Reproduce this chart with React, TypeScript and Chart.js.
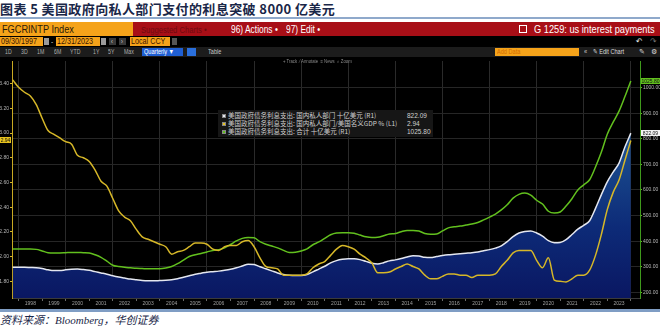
import React, { useEffect, useRef } from "react";
import { Chart, registerables } from "chart.js";
Chart.register(...registerables);

// Quarterly periods (quarter-end dates plotted)
const periods = [
  "1997Q3", "1997Q4",
  "1998Q1", "1998Q2", "1998Q3", "1998Q4",
  "1999Q1", "1999Q2", "1999Q3", "1999Q4",
  "2000Q1", "2000Q2", "2000Q3", "2000Q4",
  "2001Q1", "2001Q2", "2001Q3", "2001Q4",
  "2002Q1", "2002Q2", "2002Q3", "2002Q4",
  "2003Q1", "2003Q2", "2003Q3", "2003Q4",
  "2004Q1", "2004Q2", "2004Q3", "2004Q4",
  "2005Q1", "2005Q2", "2005Q3", "2005Q4",
  "2006Q1", "2006Q2", "2006Q3", "2006Q4",
  "2007Q1", "2007Q2", "2007Q3", "2007Q4",
  "2008Q1", "2008Q2", "2008Q3", "2008Q4",
  "2009Q1", "2009Q2", "2009Q3", "2009Q4",
  "2010Q1", "2010Q2", "2010Q3", "2010Q4",
  "2011Q1", "2011Q2", "2011Q3", "2011Q4",
  "2012Q1", "2012Q2", "2012Q3", "2012Q4",
  "2013Q1", "2013Q2", "2013Q3", "2013Q4",
  "2014Q1", "2014Q2", "2014Q3", "2014Q4",
  "2015Q1", "2015Q2", "2015Q3", "2015Q4",
  "2016Q1", "2016Q2", "2016Q3", "2016Q4",
  "2017Q1", "2017Q2", "2017Q3", "2017Q4",
  "2018Q1", "2018Q2", "2018Q3", "2018Q4",
  "2019Q1", "2019Q2", "2019Q3", "2019Q4",
  "2020Q1", "2020Q2", "2020Q3", "2020Q4",
  "2021Q1", "2021Q2", "2021Q3", "2021Q4",
  "2022Q1", "2022Q2", "2022Q3", "2022Q4",
  "2023Q1", "2023Q2", "2023Q3", "2023Q4",
];

// 国内私人部门 十亿美元 (R1)
const domesticBn = [
  298,
  298, 298, 297, 296,
  293, 288, 285, 285,
  288, 290, 291, 289,
  286, 281, 276, 271,
  265, 260, 256, 252,
  249, 246, 245, 245,
  246, 247, 249, 253,
  259, 265, 271, 275,
  279, 281, 283, 286,
  290, 296, 303, 310,
  309, 300, 292, 284,
  276, 270, 267, 266,
  266, 270, 280, 291,
  302, 315, 324, 329,
  331, 331, 328, 321,
  314, 311, 316, 323,
  327, 332, 338, 343,
  342, 337, 336, 340,
  344, 347, 349, 351,
  353, 355, 358, 363,
  367, 373, 382, 398,
  418, 432, 438, 440,
  432, 420, 402, 394,
  395, 406, 426, 447,
  462, 480, 528, 582,
  632, 670, 705, 768,
  822.09,
];

// 国内私人部门/美国名义GDP % (L1)
const domesticPctGdp = [
  3.43,
  3.37, 3.33, 3.30, 3.23,
  3.12, 3.02, 2.99, 2.96,
  2.93, 2.91, 2.82, 2.80,
  2.77, 2.70, 2.61, 2.57,
  2.47, 2.37, 2.32, 2.29,
  2.22, 2.16, 2.14, 2.12,
  2.10, 2.08, 2.02, 2.04,
  2.05, 2.08, 2.11, 2.11,
  2.10, 2.06, 2.05, 2.08,
  2.09, 2.09, 2.12, 2.13,
  2.08, 1.99, 1.92, 1.91,
  1.90, 1.85, 1.85, 1.85,
  1.85, 1.86, 1.91, 1.94,
  1.96, 2.01, 2.06, 2.09,
  2.08, 2.06, 2.02, 1.99,
  1.95, 1.87, 1.87, 1.875,
  1.90, 1.92, 1.94, 1.92,
  1.90, 1.85, 1.82, 1.82,
  1.84, 1.86, 1.86, 1.85,
  1.85, 1.83, 1.85, 1.85,
  1.85, 1.86, 1.92, 1.97,
  2.03, 2.05, 2.05, 2.05,
  1.97, 1.91, 1.99, 1.81,
  1.80, 1.795, 1.82, 1.85,
  1.85, 1.89, 2.01, 2.18,
  2.38, 2.52, 2.62, 2.78,
  2.94,
];

// 合计 十亿美元 (R1)
const totalBn = [
  369,
  369, 369, 369, 368,
  362, 355, 354, 354,
  355, 356, 356, 355,
  354, 347, 337, 322,
  306, 301, 298, 296,
  294, 293, 292, 292,
  292, 295, 301, 312,
  326, 340, 347, 352,
  358, 364, 367, 374,
  387, 401, 411, 414,
  413, 398, 388, 381,
  374, 364, 356, 357,
  362, 370, 386, 397,
  411, 425, 432, 433,
  433, 431, 424, 417,
  414, 415, 421, 428,
  430, 437, 442, 442,
  440, 430, 427, 428,
  440, 452, 456, 459,
  463, 467, 473, 483,
  494, 506, 522, 542,
  568, 583, 588, 580,
  560, 545, 517, 510,
  514, 537, 566, 600,
  620, 640, 690, 748,
  818, 865, 908, 965,
  1025.8,
];

const yearLabels = [
  "1998", "1999", "2000", "2001", "2002", "2003", "2004", "2005", "2006",
  "2007", "2008", "2009", "2010", "2011", "2012", "2013", "2014", "2015",
  "2016", "2017", "2018", "2019", "2020", "2021", "2022", "2023",
];
const leftTicks = [1.8, 2.0, 2.2, 2.4, 2.6, 2.8, 3.0, 3.2, 3.4];
const rightTicks = [200, 300, 400, 500, 600, 700, 800, 900, 1000];

const legendNames = [
  "美国政府债务利息支出: 国内私人部门 十亿美元 (R1)",
  "美国政府债务利息支出: 国内私人部门/美国名义GDP % (L1)",
  "美国政府债务利息支出: 合计 十亿美元 (R1)",
];

const WHITE = "#e4e7f0";
const YELLOW = "#d6b728";
const GREEN = "#62c01e";

const toX = (p: string) => Number(p.slice(0, 4)) + Number(p[5]) / 4;
const pts = (vals: number[]) => periods.map((p, i) => ({ x: toX(p), y: vals[i] }));

const UI = "'Liberation Sans', 'DejaVu Sans', sans-serif";

const badgePlugin = {
  id: "badges",
  afterDraw(chart: any) {
    const c = chart.ctx;
    const yL = chart.scales.yL;
    const yR = chart.scales.yR;
    const draw = (x: number, w: number, y: number, bg: string, txt: string) => {
      c.save();
      c.fillStyle = bg;
      c.fillRect(x, Math.round(y) - 3, w, 6);
      c.fillStyle = "#111";
      c.font = "5px 'Liberation Sans', sans-serif";
      c.textAlign = "center";
      c.textBaseline = "middle";
      c.fillText(txt, x + w / 2, Math.round(y) + 0.5);
      c.restore();
    };
    const lastY = domesticPctGdp[domesticPctGdp.length - 1];
    const lastT = totalBn[totalBn.length - 1];
    const lastD = domesticBn[domesticBn.length - 1];
    draw(0, 11, yL.getPixelForValue(lastY), "#e6c21e", lastY.toFixed(2));
    draw(641, 19, yR.getPixelForValue(lastT), GREEN, lastT.toFixed(2));
    draw(641, 19, yR.getPixelForValue(lastD), "#f2f2f2", lastD.toFixed(2));
  },
};

function ChartCanvas() {
  const ref = useRef<HTMLCanvasElement | null>(null);
  useEffect(() => {
    if (!ref.current) return;
    const xTicks: number[] = [];
    yearLabels.forEach((y) => {
      xTicks.push(Number(y));
      xTicks.push(Number(y) + 0.5);
    });
    xTicks.push(Number(yearLabels[yearLabels.length - 1]) + 1);
    const isInt = (v: number) => Math.abs(v - Math.round(v)) < 1e-6;
    const common = {
      borderWidth: 1.5,
      pointRadius: 0,
      cubicInterpolationMode: "monotone",
    };
    const chart = new Chart(ref.current, {
      type: "line",
      data: {
        datasets: [
          {
            ...common,
            label: legendNames[1],
            data: pts(domesticPctGdp),
            yAxisID: "yL",
            borderColor: YELLOW,
            fill: false,
          },
          {
            ...common,
            label: legendNames[2],
            data: pts(totalBn),
            yAxisID: "yR",
            borderColor: GREEN,
            fill: false,
          },
          {
            ...common,
            label: legendNames[0],
            data: pts(domesticBn),
            yAxisID: "yR",
            borderColor: WHITE,
            fill: "start",
            backgroundColor: (ctx: any) => {
              const ch = ctx.chart;
              const area = ch.chartArea;
              if (!area) return "#0b1a66";
              const g = ch.ctx.createLinearGradient(0, area.top, 0, area.bottom);
              g.addColorStop(0, "#3d7eb4");
              g.addColorStop(0.35, "#1b4f90");
              g.addColorStop(0.7, "#0d2b78");
              g.addColorStop(1, "#0a1762");
              return g;
            },
          },
        ] as any,
      },
      options: {
        animation: false,
        responsive: false,
        maintainAspectRatio: false,
        layout: { padding: 0 },
        plugins: {
          legend: { display: false },
          tooltip: { enabled: false },
          filler: { drawTime: "beforeDatasetsDraw" },
        } as any,
        scales: {
          x: {
            type: "linear",
            min: 1997.72,
            max: 2024.39,
            afterBuildTicks: (s: any) => {
              s.ticks = xTicks.map((v) => ({ value: v }));
            },
            afterFit: (s: any) => {
              s.height = 11;
            },
            ticks: {
              autoSkip: false,
              maxRotation: 0,
              minRotation: 0,
              padding: 0,
              color: "#a0a0a0",
              font: { size: 5, family: "'Liberation Sans', sans-serif" },
              callback: (v: any) => (isInt(Number(v)) ? "" : String(Math.floor(Number(v)))),
            },
            grid: {
              color: (c: any) => {
                const v = c.tick ? c.tick.value : 0;
                return isInt(v) && Math.round(v) % 2 === 0 ? "#2a2a2a" : "rgba(0,0,0,0)";
              },
              tickColor: (c: any) => {
                const v = c.tick ? c.tick.value : 0;
                return isInt(v) ? "#6a6a6a" : "rgba(0,0,0,0)";
              },
              tickLength: 3,
              lineWidth: 1,
            },
            border: { display: true, color: "#3a3a3a" },
          },
          yL: {
            type: "linear",
            position: "left",
            min: 1.665,
            max: 3.583,
            afterBuildTicks: (s: any) => {
              s.ticks = leftTicks.map((v) => ({ value: v }));
            },
            afterFit: (s: any) => {
              s.width = 12;
            },
            ticks: {
              padding: 1,
              color: "#b8b8b8",
              font: { size: 5, family: "'Liberation Sans', sans-serif" },
              callback: (v: any) => Number(v).toFixed(2),
            },
            grid: { drawOnChartArea: false, tickLength: 2, tickColor: YELLOW },
            border: { display: true, color: "#c9a922" },
          },
          yR: {
            type: "linear",
            position: "right",
            min: 178,
            max: 1104,
            afterBuildTicks: (s: any) => {
              s.ticks = rightTicks.map((v) => ({ value: v }));
            },
            afterFit: (s: any) => {
              s.width = 20;
            },
            ticks: {
              padding: 1,
              color: "#b8b8b8",
              font: { size: 5, family: "'Liberation Sans', sans-serif" },
              callback: (v: any) => Number(v).toFixed(2),
            },
            grid: { color: "#262626", tickLength: 2, tickColor: GREEN },
            border: { display: true, color: "#3f9a1c" },
          },
        },
      } as any,
      plugins: [badgePlugin],
    });
    return () => chart.destroy();
  }, []);
  return (
    <canvas
      ref={ref}
      width={660}
      height={252}
      style={{ position: "absolute", left: 0, top: 57, width: 660, height: 252 }}
    />
  );
}

const abs = (l: number, t: number, w: number, h: number, extra: any = {}) => ({
  position: "absolute" as const,
  left: l,
  top: t,
  width: w,
  height: h,
  ...extra,
});

function Txt({ l, t, s, c, children, h, sx }: any) {
  return (
    <div
      style={{
        position: "absolute",
        left: l,
        top: t,
        fontSize: s,
        color: c,
        fontFamily: UI,
        lineHeight: (h || s) + "px",
        whiteSpace: "nowrap",
        transform: `scaleX(${sx || 0.8})`,
        transformOrigin: "0 0",
      }}
    >
      {children}
    </div>
  );
}

export default function App() {
  const tools = [
    ["1D", 5], ["3D", 21], ["1M", 37], ["6M", 54], ["YTD", 70], ["1Y", 93], ["5Y", 108], ["Max", 124],
  ];
  const legendColors = [WHITE, "#e6c21e", GREEN];
  const legendVals = [
    domesticBn[domesticBn.length - 1].toFixed(2),
    domesticPctGdp[domesticPctGdp.length - 1].toFixed(2),
    totalBn[totalBn.length - 1].toFixed(2),
  ];
  return (
    <div
      style={{
        position: "fixed",
        left: 0,
        top: 0,
        width: 660,
        height: 329,
        background: "#ffffff",
        overflow: "hidden",
      }}
    >
      {/* title */}
      <div
        style={{
          position: "absolute",
          left: 0,
          top: 1,
          fontFamily: "'Noto Sans CJK SC', sans-serif",
          fontWeight: 700,
          fontSize: 13,
          letterSpacing: 0.4,
          lineHeight: "15px",
          color: "#1a2748",
          whiteSpace: "nowrap",
        }}
      >
        图表 5 美国政府向私人部门支付的利息突破 8000 亿美元
      </div>
      <div style={abs(0, 17, 660, 2, { background: "#8fa9cb" })} />

      {/* red header */}
      <div style={abs(0, 22, 660, 14, { background: "#a80f17" })} />
      <div style={abs(0, 22, 133, 14, { background: "#f5a31a" })} />
      <Txt l={2} t={23} s={11.5} h={12} c="#2a1a08" sx={0.8}>FGCRINTP Index</Txt>
      <Txt l={141} t={24} s={9.5} h={11} c="#6e0a10" sx={0.8}>Suggested Charts •</Txt>
      <Txt l={231} t={23} s={10.5} h={12} c="#ffffff" sx={0.8}>96) Actions •</Txt>
      <Txt l={286} t={23} s={10.5} h={12} c="#ffffff" sx={0.8}>97) Edit •</Txt>
      <div style={abs(519, 25, 8, 8, { border: "1px solid #fff", boxSizing: "border-box" })} />
      <Txt l={534} t={23} s={10.5} h={12} c="#ffffff" sx={0.88}>G 1259: us interest payments</Txt>

      {/* black area */}
      <div style={abs(0, 36, 660, 273, { background: "#000" })} />

      {/* row 2 */}
      <div style={abs(0, 37, 43, 9, { background: "#f5a31a" })} />
      <Txt l={1} t={37} s={9} h={9} c="#3a1500" sx={0.8}>09/30/1997</Txt>
      <div style={abs(44, 38, 5, 7, { background: "#9a9a9a" })} />
      <Txt l={51} t={37} s={8} h={9} c="#ddd">-</Txt>
      <div style={abs(56, 37, 44, 9, { background: "#f5a31a" })} />
      <Txt l={57} t={37} s={9} h={9} c="#3a1500" sx={0.8}>12/31/2023</Txt>
      <div style={abs(101, 38, 5, 7, { background: "#9a9a9a" })} />
      <div style={abs(109, 38, 7, 7, { background: "#3a3a3a" })} />
      <Txt l={111} t={37} s={7} h={9} c="#ccc">‹</Txt>
      <div style={abs(119, 38, 7, 7, { background: "#3a3a3a" })} />
      <Txt l={121} t={37} s={7} h={9} c="#ccc">›</Txt>
      <div style={abs(130, 37, 40, 9, { background: "#f5a31a" })} />
      <Txt l={131} t={37} s={9} h={9} c="#3a1500" sx={0.8}>Local CCY</Txt>
      <div style={abs(172, 38, 5, 7, { background: "#555" })} />
      <Txt l={636} t={37} s={8} h={9} c="#eee" sx={1}>↶</Txt>
      <Txt l={650} t={37} s={8} h={9} c="#777" sx={1}>↷</Txt>

      {/* row 3 */}
      <div style={abs(0, 47, 660, 10, { background: "#1c1c1c" })} />
      {tools.map(([t, l]: any) => (
        <Txt key={t} l={l} t={48} s={6.5} h={8} c="#b0b0b0">{t}</Txt>
      ))}
      <div style={abs(142, 48, 41, 8, { background: "#1f5fd3" })} />
      <Txt l={144} t={48} s={7} h={8} c="#ffffff">Quarterly ▼</Txt>
      <div style={abs(187, 48, 9, 8, { background: "#2a6fdc" })} />
      <Txt l={208} t={48} s={7} h={8} c="#c8c8c8">Table</Txt>
      <div style={abs(495, 48, 84, 8, { background: "#f5a31a" })} />
      <Txt l={497} t={48} s={7} h={8} c="#d46a00">Add Data</Txt>
      <Txt l={584} t={48} s={7} h={8} c="#cccccc">«</Txt>
      <Txt l={593} t={48} s={7} h={8} c="#dddddd">✎ Edit Chart</Txt>
      <Txt l={639} t={48} s={7} h={8} c="#dddddd" sx={1}>✎</Txt>
      <Txt l={651} t={48} s={7} h={8} c="#dddddd" sx={1}>⚙</Txt>

      <ChartCanvas />

      {/* row 4 overlay */}
      <Txt l={283} t={58} s={5} h={6} c="#8a8a8a" sx={0.85}>
        + Track &nbsp;⁄ Annotate &nbsp;≡ News &nbsp;⌕ Zoom
      </Txt>

      {/* legend */}
      <div style={abs(218, 110, 215, 27, { background: "#161616" })} />
      {legendNames.map((n, i) => (
        <React.Fragment key={n}>
          <div
            style={abs(222, 113.5 + i * 8, 4, 4, {
              background: legendColors[i],
              border: "0.5px solid #888",
              boxSizing: "border-box",
            })}
          />
          <div
            style={{
              position: "absolute",
              left: 228,
              top: 112 + i * 8,
              fontSize: 6.5,
              lineHeight: "7px",
              color: "#d0d0d0",
              fontFamily: "'Noto Sans CJK SC', sans-serif",
              whiteSpace: "nowrap",
            }}
          >
            {n}
          </div>
          <div
            style={{
              position: "absolute",
              left: 407,
              top: 112 + i * 8,
              fontSize: 6.5,
              lineHeight: "7px",
              color: "#d0d0d0",
              fontFamily: "'Liberation Sans', sans-serif",
              whiteSpace: "nowrap",
            }}
          >
            {legendVals[i]}
          </div>
        </React.Fragment>
      ))}

      {/* bottom */}
      <div style={abs(0, 309, 660, 3, { background: "#7f9dc4" })} />
      <div
        style={{
          position: "absolute",
          left: 0,
          top: 314,
          fontSize: 11,
          lineHeight: "13px",
          fontStyle: "italic",
          color: "#1a2748",
          fontFamily: "'Liberation Serif', 'Noto Sans CJK SC', serif",
          whiteSpace: "nowrap",
        }}
      >
        资料来源：Bloomberg，华创证券
      </div>
    </div>
  );
}
